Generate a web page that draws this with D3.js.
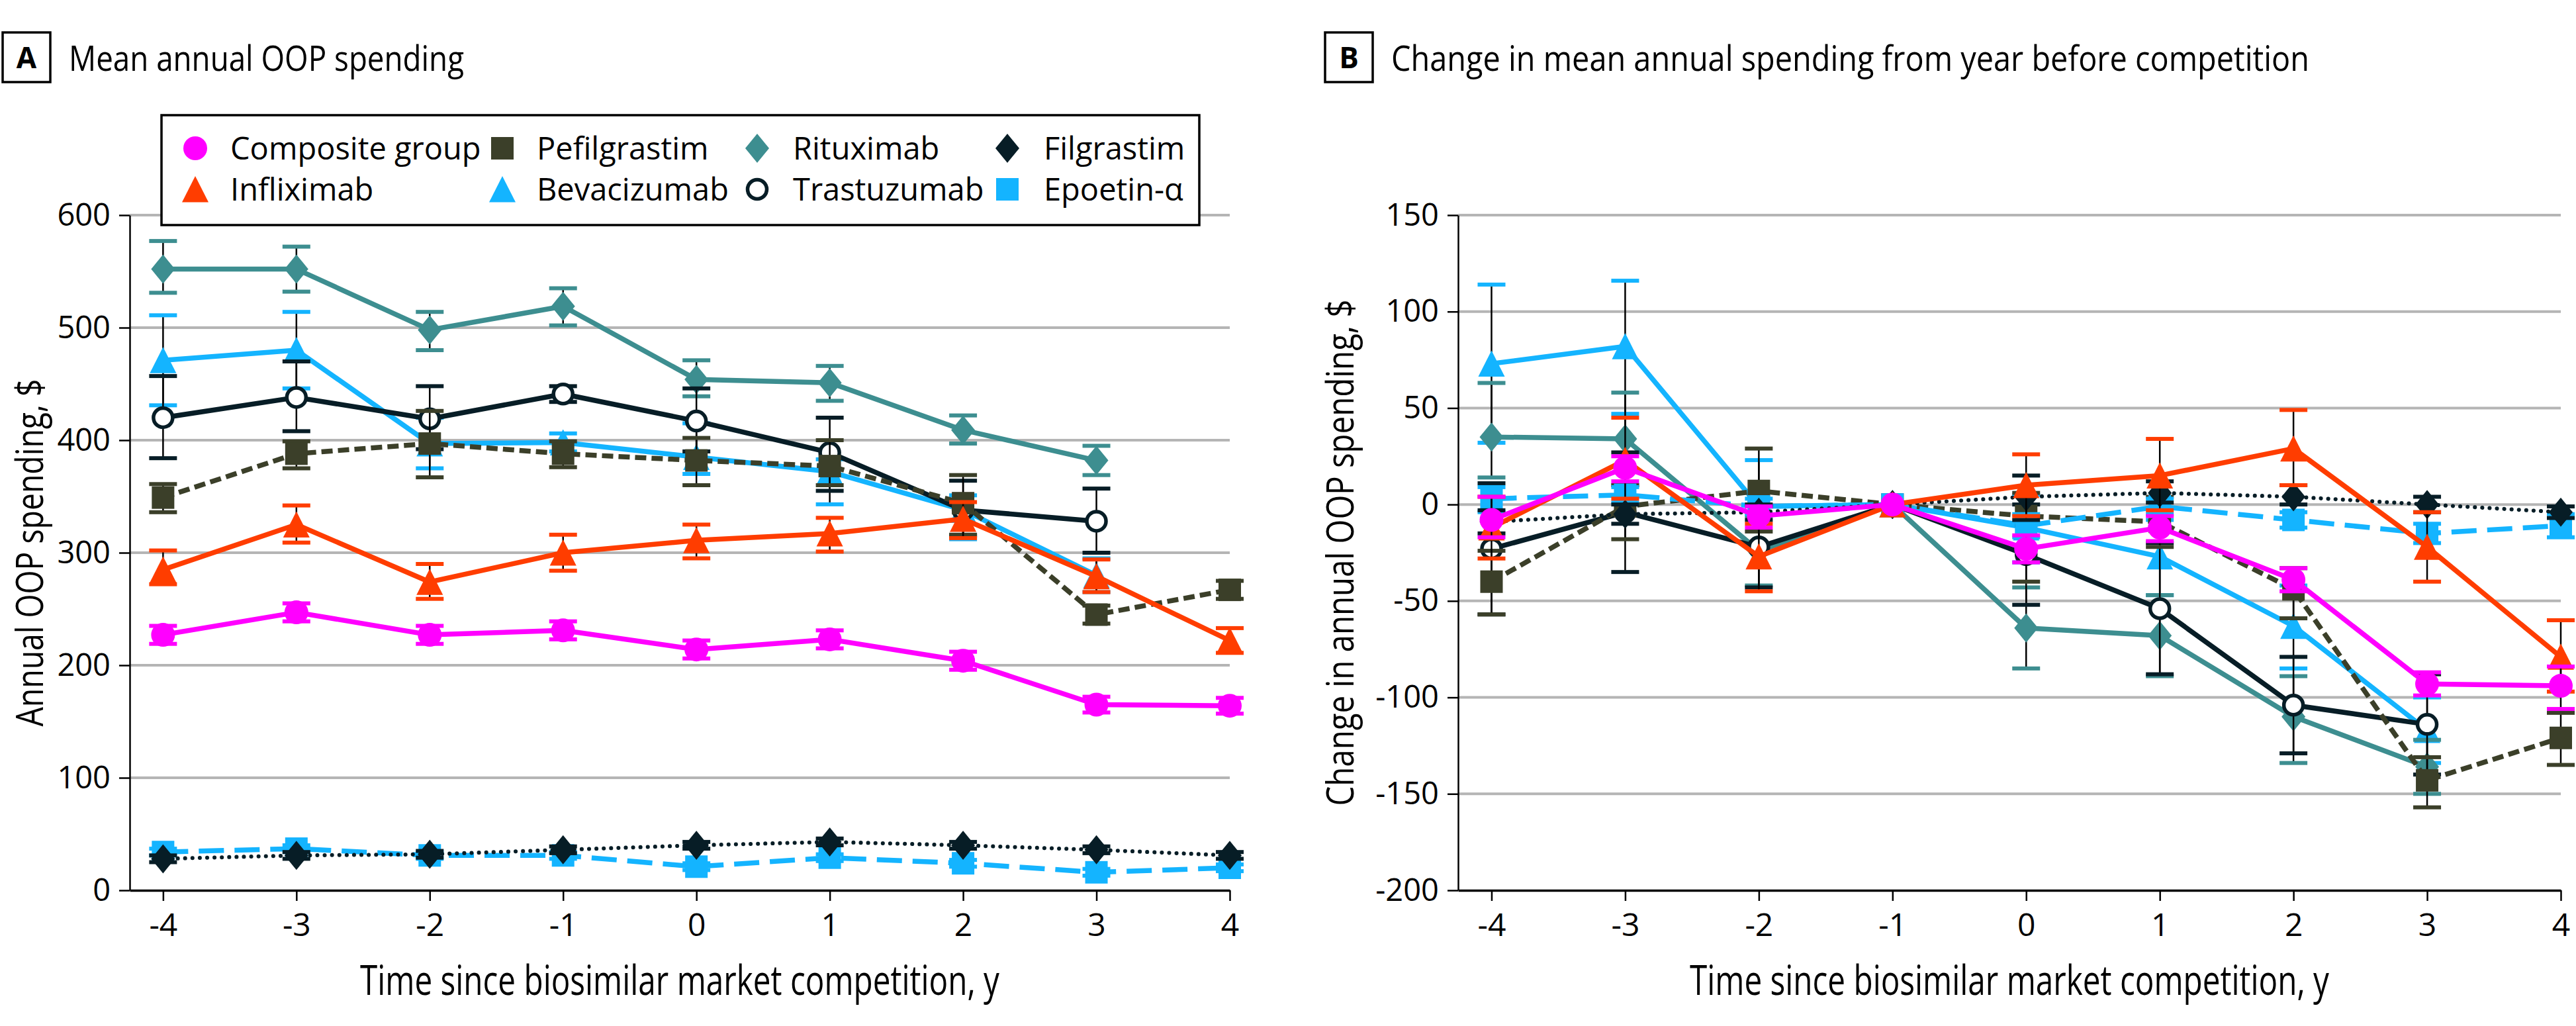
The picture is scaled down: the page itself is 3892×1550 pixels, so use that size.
<!DOCTYPE html>
<html>
<head>
<meta charset="utf-8">
<script src="https://cdn.jsdelivr.net/npm/d3@7"></script>
<style>
  html, body { margin: 0; padding: 0; background: #ffffff; }
  svg { display: block; font-family: "Open Sans", "Noto Sans", sans-serif; }
</style>
</head>
<body>
<svg id="chart" width="3892" height="1550"></svg>
<script>
// ---------------- DATA ----------------
const years = [-4, -3, -2, -1, 0, 1, 2, 3, 4];
const yTicksA = [0, 100, 200, 300, 400, 500, 600];
const yTicksB = [-200, -150, -100, -50, 0, 50, 100, 150];

// Panel A: mean annual OOP spending ($), value / lower / upper
const aComposite     = [227, 247, 227, 231, 214, 223, 204, 165, 164];
const aCompositeLo   = [219, 239, 219, 223, 206, 215, 196, 158, 157];
const aCompositeHi   = [235, 255, 235, 239, 222, 231, 212, 172, 171];
const aInfliximab    = [285, 325, 274, 300, 311, 317, 330, 279, 222];
const aInfliximabLo  = [272, 309, 259, 284, 295, 301, 313, 265, 211];
const aInfliximabHi  = [302, 342, 290, 316, 325, 331, 345, 294, 233];
const aPefilgrastim   = [349, 388, 397, 388, 382, 377, 344, 245, 267];
const aPefilgrastimLo = [336, 375, 367, 376, 360, 360, 316, 237, 259];
const aPefilgrastimHi = [361, 399, 426, 399, 402, 400, 369, 253, 275];
const aBevacizumab    = [471, 480, 397, 398, 385, 372, 338, 280, null];
const aBevacizumabLo  = [431, 446, 375, 390, 370, 343, 312, 265, null];
const aBevacizumabHi  = [511, 514, 420, 406, 415, 383, 351, 295, null];
const aRituximab      = [552, 552, 498, 519, 454, 451, 409, 382, null];
const aRituximabLo    = [531, 532, 480, 502, 439, 435, 397, 369, null];
const aRituximabHi    = [577, 572, 514, 535, 471, 466, 422, 395, null];
const aTrastuzumab    = [420, 438, 419, 441, 417, 389, 338, 328, null];
const aTrastuzumabLo  = [384, 408, 392, 434, 390, 355, 315, 300, null];
const aTrastuzumabHi  = [457, 470, 448, 448, 446, 420, 364, 357, null];
const aFilgrastim     = [28, 31, 32, 36, 40, 43, 40, 36, 31];
const aFilgrastimLo   = [25, 28, 29, 33, 37, 40, 37, 33, 28];
const aFilgrastimHi   = [31, 34, 35, 39, 43, 46, 43, 39, 34];
const aEpoetin        = [34, 37, 31, 31, 21, 29, 24, 16, 20];
const aEpoetinLo      = [31, 34, 28, 28, 18, 26, 21, 13, 17];
const aEpoetinHi      = [37, 40, 34, 34, 24, 32, 27, 19, 23];

// Panel B: change from year before competition ($)
const bComposite      = [-8, 19, -6, 0, -23, -12, -39, -93, -94];
const bCompositeLo    = [-17, 12, -12, null, -30, -19, -45, -99, -106];
const bCompositeHi    = [4, 25, -1, null, -16, -6, -33, -87, -84];
const bInfliximab     = [-12, 23, -27, 0, 10, 15, 29, -22, -79];
const bInfliximabLo   = [-28, 3, -45, null, -6, -3, 10, -40, -97];
const bInfliximabHi   = [4, 45, -10, null, 26, 34, 49, -4, -60];
const bPefilgrastim   = [-40, -1, 7, 0, -6, -9, -44, -143, -121];
const bPefilgrastimLo = [-57, -18, -14, null, -40, -22, -59, -157, -135];
const bPefilgrastimHi = [-24, 10, 29, null, 6, 4, -33, -131, -108];
const bBevacizumab    = [73, 82, -1, 0, -12, -27, -63, -117, null];
const bBevacizumabLo  = [32, 47, -22, null, -30, -47, -85, -134, null];
const bBevacizumabHi  = [114, 116, 23, null, 5, -8, -42, -100, null];
const bRituximab      = [35, 34, -24, 0, -64, -68, -110, -136, null];
const bRituximabLo    = [14, 10, -42, null, -85, -89, -134, -150, null];
const bRituximabHi    = [63, 58, -6, null, -43, -47, -89, -122, null];
const bTrastuzumab    = [-23, -4, -22, 0, -26, -54, -104, -114, null];
const bTrastuzumabLo  = [-57, -35, -43, null, -52, -88, -129, -140, null];
const bTrastuzumabHi  = [11, 27, -1, null, 0, -20, -79, -88, null];
const bFilgrastim     = [-9, -5, -4, 0, 4, 6, 4, 0, -4];
const bFilgrastimLo   = [-15, -10, -8, null, -8, 1, 0, -4, -7];
const bFilgrastimHi   = [-3, 0, 0, null, 15, 12, 10, 4, -1];
const bEpoetin        = [3, 5, -1, 0, -11, -1, -8, -15, -11];
const bEpoetinLo      = [-4, 1, -5, null, -17, -5, -12, -20, -17];
const bEpoetinHi      = [9, 9, 3, null, -5, 3, -4, -10, -5];

// ---------------- STYLE ----------------
const styles = {
  "Composite group": { color: "#ff00ff", marker: "circle",   dash: null,      width: 7.5 },
  "Infliximab":      { color: "#ff3d00", marker: "triangle", dash: null,      width: 7.5 },
  "Pefilgrastim":    { color: "#3b3f29", marker: "square",   dash: "17,8",    width: 7.5 },
  "Bevacizumab":     { color: "#14b4ff", marker: "triangle", dash: null,      width: 7.5 },
  "Rituximab":       { color: "#3d8e90", marker: "diamond",  dash: null,      width: 7.5 },
  "Trastuzumab":     { color: "#071d26", marker: "ocircle",  dash: null,      width: 7.5 },
  "Filgrastim":      { color: "#071d26", marker: "diamond",  dash: "0.1,11",  width: 6, cap: "round" },
  "Epoetin-α":       { color: "#14b4ff", marker: "square",   dash: "38,16",   width: 7.5 }
};

const seriesA = [
  { name: "Bevacizumab", v: aBevacizumab, lo: aBevacizumabLo, hi: aBevacizumabHi },
  { name: "Rituximab", v: aRituximab, lo: aRituximabLo, hi: aRituximabHi },
  { name: "Trastuzumab", v: aTrastuzumab, lo: aTrastuzumabLo, hi: aTrastuzumabHi },
  { name: "Pefilgrastim", v: aPefilgrastim, lo: aPefilgrastimLo, hi: aPefilgrastimHi },
  { name: "Epoetin-α", v: aEpoetin, lo: aEpoetinLo, hi: aEpoetinHi },
  { name: "Filgrastim", v: aFilgrastim, lo: aFilgrastimLo, hi: aFilgrastimHi },
  { name: "Infliximab", v: aInfliximab, lo: aInfliximabLo, hi: aInfliximabHi },
  { name: "Composite group", v: aComposite, lo: aCompositeLo, hi: aCompositeHi }
];
const seriesB = [
  { name: "Bevacizumab", v: bBevacizumab, lo: bBevacizumabLo, hi: bBevacizumabHi },
  { name: "Rituximab", v: bRituximab, lo: bRituximabLo, hi: bRituximabHi },
  { name: "Trastuzumab", v: bTrastuzumab, lo: bTrastuzumabLo, hi: bTrastuzumabHi },
  { name: "Pefilgrastim", v: bPefilgrastim, lo: bPefilgrastimLo, hi: bPefilgrastimHi },
  { name: "Epoetin-α", v: bEpoetin, lo: bEpoetinLo, hi: bEpoetinHi },
  { name: "Filgrastim", v: bFilgrastim, lo: bFilgrastimLo, hi: bFilgrastimHi },
  { name: "Infliximab", v: bInfliximab, lo: bInfliximabLo, hi: bInfliximabHi },
  { name: "Composite group", v: bComposite, lo: bCompositeLo, hi: bCompositeHi }
];

const legendRows = [
  ["Composite group", "Pefilgrastim", "Rituximab", "Filgrastim"],
  ["Infliximab", "Bevacizumab", "Trastuzumab", "Epoetin-α"]
];

// ---------------- DRAW ----------------
const svg = d3.select("#chart");
const GRID = "#b5b5b5";

function drawMarker(g, type, color, x, y) {
  if (type === "circle") {
    g.append("circle").attr("cx", x).attr("cy", y).attr("r", 18).attr("fill", color);
  } else if (type === "ocircle") {
    g.append("circle").attr("cx", x).attr("cy", y).attr("r", 14.5)
      .attr("fill", "#ffffff").attr("stroke", color).attr("stroke-width", 5.5);
  } else if (type === "triangle") {
    g.append("path").attr("d", `M${x},${y - 20}L${x + 20},${y + 19.5}L${x - 20},${y + 19.5}Z`).attr("fill", color);
  } else if (type === "square") {
    g.append("rect").attr("x", x - 17).attr("y", y - 17).attr("width", 34).attr("height", 34).attr("fill", color);
  } else if (type === "diamond") {
    g.append("path").attr("d", `M${x},${y - 22}L${x + 18},${y}L${x},${y + 22}L${x - 18},${y}Z`).attr("fill", color);
  }
}

function drawPanel(cfg) {
  const g = svg.append("g");
  const x = d3.scaleLinear().domain([-4.25, 4]).range([cfg.x0, cfg.x1]);
  const y = d3.scaleLinear().domain(cfg.yDomain).range([1345, 325]);

  // gridlines
  g.append("g").selectAll("line").data(cfg.yTicks.filter(t => t !== cfg.yDomain[0])).join("line")
    .attr("x1", cfg.x0).attr("x2", x(4)).attr("y1", d => y(d)).attr("y2", d => y(d))
    .attr("stroke", GRID).attr("stroke-width", 4);

  // y axis
  const ya = g.append("g").attr("transform", `translate(${cfg.x0},0)`)
    .call(d3.axisLeft(y).tickValues(cfg.yTicks).tickSize(16).tickSizeOuter(0).tickPadding(13).tickFormat(d => String(d)));
  ya.select(".domain").attr("stroke", "#000").attr("stroke-width", 2.5);
  ya.selectAll(".tick line").attr("stroke", "#000").attr("stroke-width", 2.5);
  ya.selectAll(".tick text").attr("font-size", 47).attr("fill", "#000").attr("font-family", "'Open Sans', sans-serif");

  // x axis
  const xa = g.append("g").attr("transform", `translate(0,1345)`)
    .call(d3.axisBottom(x).tickValues(years).tickSize(16).tickSizeOuter(0).tickPadding(19).tickFormat(d => String(d)));
  xa.select(".domain").attr("stroke", "#000").attr("stroke-width", 3.5);
  xa.selectAll(".tick line").attr("stroke", "#000").attr("stroke-width", 2.5);
  xa.selectAll(".tick text").attr("font-size", 48).attr("fill", "#000").attr("font-family", "'Open Sans', sans-serif");

  // series
  cfg.series.forEach(s => {
    const st = styles[s.name];
    const sg = g.append("g");
    const pts = years.map((yr, i) => ({ yr, v: s.v[i], lo: s.lo[i], hi: s.hi[i] })).filter(p => p.v !== null);
    // error bars
    pts.filter(p => p.lo !== null && p.hi !== null).forEach(p => {
      sg.append("line").attr("x1", x(p.yr)).attr("x2", x(p.yr)).attr("y1", y(p.lo)).attr("y2", y(p.hi))
        .attr("stroke", "#000").attr("stroke-width", 2.5);
      [p.lo, p.hi].forEach(e => {
        sg.append("rect").attr("x", x(p.yr) - 21).attr("y", y(e) - 3).attr("width", 42).attr("height", 6).attr("fill", st.color);
      });
    });
    // line
    const line = d3.line().x(p => x(p.yr)).y(p => y(p.v));
    sg.append("path").datum(pts).attr("d", line).attr("fill", "none")
      .attr("stroke", st.color).attr("stroke-width", st.width)
      .attr("stroke-dasharray", st.dash).attr("stroke-linecap", st.cap || "butt").attr("stroke-linejoin", "round");
    // markers
    pts.forEach(p => drawMarker(sg, st.marker, st.color, x(p.yr), y(p.v)));
  });

  // panel label and title
  g.append("rect").attr("x", cfg.boxX).attr("y", 49).attr("width", 72).attr("height", 75)
    .attr("fill", "none").attr("stroke", "#000").attr("stroke-width", 3.5);
  g.append("text").attr("x", cfg.boxX + 36).attr("y", 103).attr("text-anchor", "middle")
    .attr("font-size", 44).attr("font-weight", "bold").text(cfg.letter);
  g.append("text").attr("x", cfg.boxX + 100).attr("y", 107).attr("font-size", 53)
    .attr("textLength", cfg.titleLen).attr("lengthAdjust", "spacingAndGlyphs").text(cfg.title);

  // axis titles
  g.append("text").attr("x", (cfg.x0 + x(4)) / 2).attr("y", 1503).attr("text-anchor", "middle")
    .attr("font-size", 62).attr("textLength", 966).attr("lengthAdjust", "spacingAndGlyphs")
    .text("Time since biosimilar market competition, y");
  g.append("text").attr("transform", `translate(${cfg.yTitleX},835) rotate(-90)`).attr("text-anchor", "middle")
    .attr("font-size", 57).attr("textLength", cfg.yTitleLen).attr("lengthAdjust", "spacingAndGlyphs")
    .text(cfg.yTitle);
  return g;
}

drawPanel({
  x0: 196, x1: 1858, yDomain: [0, 600], yTicks: yTicksA, series: seriesA,
  boxX: 4, letter: "A", title: "Mean annual OOP spending", titleLen: 597,
  yTitle: "Annual OOP spending, $", yTitleX: 65, yTitleLen: 525
});
drawPanel({
  x0: 2203, x1: 3869, yDomain: [-200, 150], yTicks: yTicksB, series: seriesB,
  boxX: 2002, letter: "B", title: "Change in mean annual spending from year before competition", titleLen: 1387,
  yTitle: "Change in annual OOP spending, $", yTitleX: 2045, yTitleLen: 765
});

// legend (panel A)
const lg = svg.append("g");
lg.append("rect").attr("x", 244).attr("y", 174).attr("width", 1568).attr("height", 166)
  .attr("fill", "#ffffff").attr("stroke", "#000").attr("stroke-width", 3.5);
const colMarkX = [295, 759, 1144, 1522];
const colTextX = [348, 811, 1198, 1577];
const rowY = [224, 286];
legendRows.forEach((row, r) => {
  row.forEach((name, c) => {
    const st = styles[name];
    drawMarker(lg, st.marker, st.color, colMarkX[c], rowY[r]);
    lg.append("text").attr("x", colTextX[c]).attr("y", rowY[r] + 17).attr("font-size", 47).text(name);
  });
});
</script>
</body>
</html>
